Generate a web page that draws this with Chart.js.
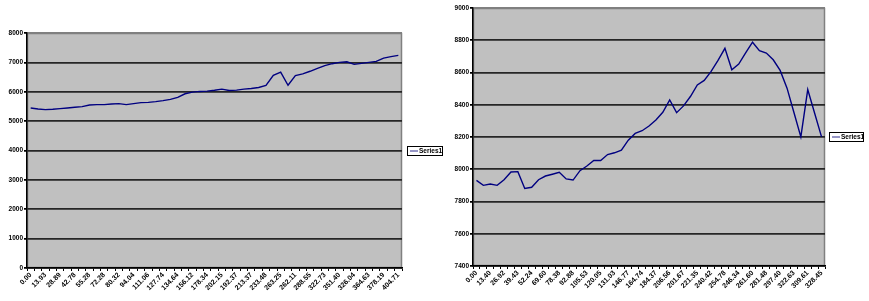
<!DOCTYPE html>
<html>
<head>
<meta charset="utf-8">
<script src="https://cdn.jsdelivr.net/npm/chart.js@4.4.0/dist/chart.umd.min.js"></script>
<style>
body { margin: 0; background: #fff; }
canvas { position: absolute; top: 0; }
</style>
</head>
<body>
<canvas id="left" width="445" height="301" style="left:0px"></canvas>
<canvas id="right" width="424" height="301" style="left:445px"></canvas>
<script>
// series name shown in both legends
var seriesName = 'Series1';

// left chart: every 2nd category carries a label
var leftTicks = ['0.00', '13.93', '28.89', '42.78', '55.28', '72.28', '80.32', '94.04', '111.06',
    '127.74', '134.64', '156.12', '178.34', '202.15', '192.37', '213.37', '233.48', '263.25',
    '262.11', '288.55', '322.73', '351.40', '326.04', '364.63', '378.19', '404.71'];
var leftValues = [5449, 5415, 5393, 5404, 5426, 5449, 5471, 5494, 5550, 5561,
    5561, 5584, 5595, 5561, 5595, 5629, 5640, 5663, 5696, 5741,
    5809, 5932, 5988, 6011, 6022, 6050, 6090, 6045, 6056, 6090,
    6112, 6146, 6213, 6560, 6670, 6220, 6550, 6607, 6697, 6798,
    6888, 6955, 7000, 7022, 6933, 6966, 7000, 7034, 7146, 7195, 7240];

// right chart
var rightTicks = ['0.00', '13.40', '26.92', '39.43', '52.24', '69.60', '78.38', '92.88', '105.53',
    '120.05', '131.03', '146.77', '164.74', '184.37', '206.56', '201.67', '221.35', '240.42',
    '254.78', '246.34', '261.60', '281.48', '297.40', '322.63', '309.61', '328.45'];
var rightValues = [7931, 7900, 7908, 7900, 7935, 7983, 7985, 7881, 7888, 7935,
    7958, 7969, 7981, 7940, 7933, 7991, 8020, 8054, 8054, 8091,
    8102, 8118, 8180, 8222, 8239, 8268, 8305, 8353, 8430, 8351,
    8393, 8451, 8523, 8551, 8607, 8675, 8750, 8617, 8652, 8721,
    8788, 8736, 8721, 8679, 8613, 8503, 8352, 8201, 8494, 8347, 8201];

var fontFamily = '"Liberation Sans", Arial, sans-serif';

function expandLabels(ticks, n) {
    var out = [];
    for (var i = 0; i < n; i++) {
        out.push(i % 2 == 0 ? ticks[i / 2] : '');
    }
    return out;
}

// grey plot background + excel style legend box
var plotBox = {
    id: 'plotBox',
    beforeDraw: function (chart) {
        var a = chart.chartArea, ctx = chart.ctx;
        ctx.save();
        ctx.fillStyle = '#c0c0c0';
        ctx.fillRect(a.left, a.top, a.right - a.left, a.bottom - a.top);
        ctx.strokeStyle = '#808080';
        ctx.lineWidth = 1.5;
        ctx.strokeRect(a.left + 0.5, a.top + 0.5, a.right - a.left - 1, a.bottom - a.top - 1);
        ctx.restore();
    },
    afterDraw: function (chart, args, opts) {
        var ctx = chart.ctx;
        var x = opts.x, y = opts.y, w = opts.w, h = opts.h;
        ctx.save();
        ctx.fillStyle = '#fff';
        ctx.fillRect(x, y, w, h);
        ctx.strokeStyle = '#000';
        ctx.lineWidth = 1;
        ctx.strokeRect(x + 0.5, y + 0.5, w - 1, h - 1);
        ctx.strokeStyle = '#5050a0';
        ctx.lineWidth = 1.2;
        ctx.beginPath();
        ctx.moveTo(x + 3, y + h / 2);
        ctx.lineTo(x + 11, y + h / 2);
        ctx.stroke();
        ctx.fillStyle = '#000';
        ctx.font = 'bold 6.5px ' + fontFamily;
        ctx.textBaseline = 'middle';
        ctx.fillText(chart.data.datasets[0].label, x + 12, y + h / 2 + 0.5);
        ctx.restore();
    }
};

function makeChart(id, ticks, values, yMin, yMax, yStep, pad, yWidth, xHeight, legendBox) {
    var labels = expandLabels(ticks, values.length);
    return new Chart(document.getElementById(id), {
        type: 'line',
        data: {
            labels: labels,
            datasets: [{
                label: seriesName,
                data: values,
                borderColor: '#000080',
                borderWidth: 1.4,
                pointRadius: 0,
                tension: 0,
                fill: false
            }]
        },
        options: {
            responsive: false,
            animation: false,
            devicePixelRatio: 1,
            layout: { padding: pad },
            plugins: {
                legend: { display: false },
                tooltip: { enabled: false },
                plotBox: legendBox
            },
            scales: {
                x: {
                    offset: true,
                    grid: { offset: true, drawOnChartArea: false, drawTicks: true, tickLength: 3, color: '#000' },
                    border: { color: '#000', width: 1.5 },
                    ticks: {
                        autoSkip: false, maxRotation: 45, minRotation: 45, padding: 0,
                        color: '#000', font: { family: fontFamily, size: 7, weight: 'bold' }
                    },
                    afterFit: function (s) { s.height = xHeight; }
                },
                y: {
                    min: yMin, max: yMax,
                    ticks: {
                        stepSize: yStep, padding: 1, color: '#000',
                        font: { family: fontFamily, size: 6.5, weight: 'bold' },
                        callback: function (v) { return String(v); }
                    },
                    grid: {
                        tickLength: 3, tickColor: '#000', lineWidth: 1.7,
                        color: function (c) { return c.tick && c.tick.value == yMax ? '#808080' : '#262626'; }
                    },
                    border: { color: '#000', width: 1.5 },
                    afterFit: function (s) { s.width = yWidth; }
                }
            }
        },
        plugins: [plotBox]
    });
}

makeChart('left', leftTicks, leftValues, 0, 8000, 1000,
    { top: 33, right: 43, bottom: 0, left: 0 }, 27, 33,
    { x: 407, y: 146, w: 36, h: 10 });

makeChart('right', rightTicks, rightValues, 7400, 9000, 200,
    { top: 8, right: 44, bottom: 0, left: 0 }, 28, 35,
    { x: 384, y: 132, w: 35, h: 10 });
</script>
</body>
</html>
